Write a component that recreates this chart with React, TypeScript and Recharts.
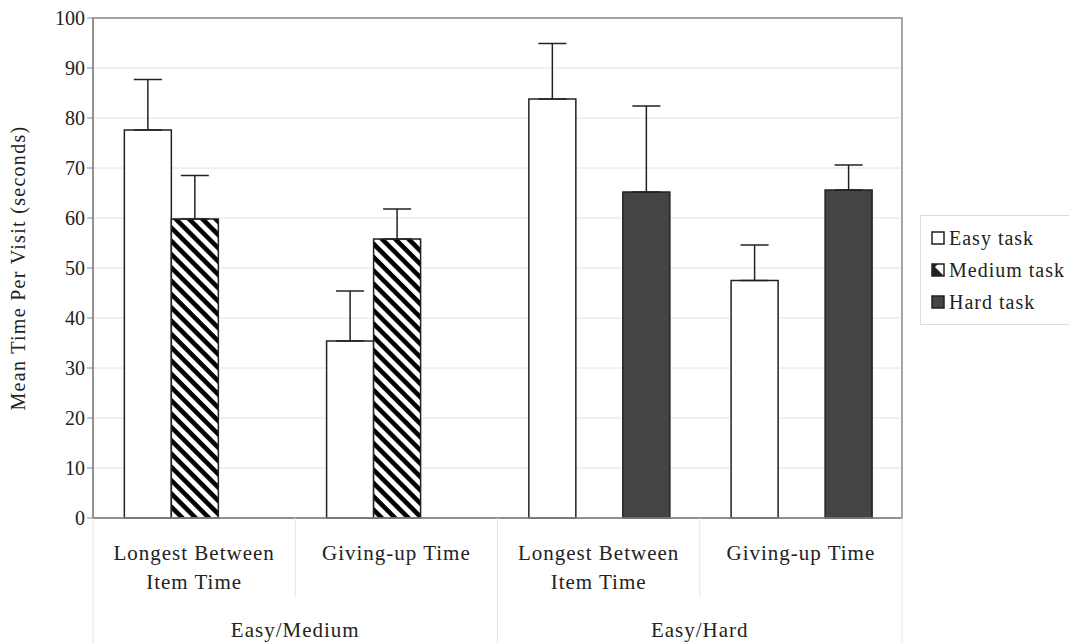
import React from "react";
import {
  BarChart,
  Bar,
  XAxis,
  YAxis,
  CartesianGrid,
  ErrorBar,
  Legend,
  ReferenceArea,
} from "recharts";

const categories = [
  "Longest Between\nItem Time",
  "Giving-up Time",
  "Longest Between\nItem Time",
  "Giving-up Time",
];
const groups = ["Easy/Medium", "Easy/Medium", "Easy/Hard", "Easy/Hard"];

const easy = [77.6, 35.4, 83.8, 47.5];
const easyErr = [10.1, 10.0, 11.1, 7.1];
const medium = [59.8, 55.8, null, null];
const mediumErr = [8.7, 6.0, null, null];
const hard = [null, null, 65.2, 65.6];
const hardErr = [null, null, 17.2, 5.0];

const yTicks = [0, 10, 20, 30, 40, 50, 60, 70, 80, 90, 100];

const data = categories.map((cat, i) => ({
  cat,
  key: `${groups[i]}-${i}`,
  group: groups[i],
  easy: easy[i],
  easyErr: [0, easyErr[i]],
  medium: medium[i],
  mediumErr: mediumErr[i] == null ? null : [0, mediumErr[i]],
  hard: hard[i],
  hardErr: hardErr[i] == null ? null : [0, hardErr[i]],
}));

const FONT = "'Liberation Serif', 'Times New Roman', Tinos, serif";
const INK = "#222";
const AXIS = "#8a8a8a";
const DIVIDER = "#e2e2e2";

function CategoryTick(props: any) {
  const { x, y, payload, index } = props;
  const half = payload?.offset ? payload.offset : 101.5;
  const lines = String(data[index]?.cat ?? "").split("\n");
  const left = x - half;
  const right = x + half;
  const groupStart = index === 0 || groups[index] !== groups[index - 1];
  return (
    <g>
      <line x1={left} y1={y - 8} x2={left} y2={groupStart ? 643 : 597} stroke={DIVIDER} />
      {index === data.length - 1 && (
        <line x1={right} y1={y - 8} x2={right} y2={643} stroke={DIVIDER} />
      )}
      <text
        x={x}
        y={y + 34}
        textAnchor="middle"
        fontFamily={FONT}
        fontSize={21}
        letterSpacing={1}
        fill={INK}
      >
        {lines.map((l, k) => (
          <tspan key={k} x={x} dy={k === 0 ? 0 : 29}>
            {l}
          </tspan>
        ))}
      </text>
      {groupStart && (
        <text
          x={right}
          y={y + 111}
          textAnchor="middle"
          fontFamily={FONT}
          fontSize={21}
          letterSpacing={1}
          fill={INK}
        >
          {groups[index]}
        </text>
      )}
    </g>
  );
}

function LegendBox() {
  const items = [
    { name: "Easy task", kind: "easy" },
    { name: "Medium task", kind: "medium" },
    { name: "Hard task", kind: "hard" },
  ];
  return (
    <div
      style={{
        border: "1px solid #dcdcdc",
        width: 160,
        padding: "6px 0 6px 10px",
        fontFamily: FONT,
        fontSize: 20,
        color: INK,
        background: "#fff",
        boxSizing: "border-box",
      }}
    >
      {items.map((it) => (
        <div key={it.kind} style={{ display: "flex", alignItems: "center", height: 32 }}>
          <svg width={14} height={14} style={{ marginRight: 4 }}>
            {it.kind === "easy" && (
              <rect x={1} y={1} width={12} height={12} fill="#fff" stroke={INK} strokeWidth={1.5} />
            )}
            {it.kind === "medium" && (
              <g>
                <rect x={1} y={1} width={12} height={12} fill="#fff" stroke={INK} strokeWidth={1.5} />
                <polygon points="1,1 13,13 1,13" fill={INK} />
                <polygon points="1,1 7,1 1,7" fill={INK} />
              </g>
            )}
            {it.kind === "hard" && (
              <rect x={1} y={1} width={12} height={12} fill="#444" stroke={INK} strokeWidth={1.5} />
            )}
          </svg>
          <span style={{ letterSpacing: 1 }}>{it.name}</span>
        </div>
      ))}
    </div>
  );
}

export default function App() {
  return (
    <div style={{ position: "absolute", left: 0, top: 0, background: "#fff" }}>
      <BarChart
        width={1069}
        height={643}
        data={data}
        margin={{ top: 18, right: 7, bottom: 0, left: 0 }}
        barCategoryGap="15.5%"
        barGap={0}
      >
        <defs>
          <pattern
            id="hatch"
            width={9.4}
            height={9.4}
            patternUnits="userSpaceOnUse"
            patternTransform="rotate(45)"
          >
            <rect width={9.4} height={9.4} fill="#fff" />
            <rect width={9.4} height={4.6} fill="#000" />
          </pattern>
        </defs>
        <CartesianGrid horizontal vertical={false} stroke={DIVIDER} />
        <ReferenceArea y1={0} y2={100} fill="none" stroke={AXIS} strokeWidth={1.5} />
        <XAxis
          dataKey="key"
          height={125}
          axisLine={{ stroke: AXIS, strokeWidth: 1.5 }}
          tickLine={false}
          interval={0}
          tick={<CategoryTick />}
        />
        <YAxis
          width={93}
          domain={[0, 100]}
          ticks={yTicks}
          interval={0}
          axisLine={{ stroke: AXIS, strokeWidth: 1.5 }}
          tickLine={{ stroke: AXIS }}
          tickSize={6}
          tick={{ fontFamily: FONT, fontSize: 20, fill: INK }}
          label={{
            value: "Mean Time Per Visit (seconds)",
            angle: -90,
            position: "center",
            dx: -29,
            style: { fontFamily: FONT, fontSize: 20, fill: INK, letterSpacing: 1.3 },
          }}
        />
        <Legend
          layout="vertical"
          verticalAlign="middle"
          align="right"
          wrapperStyle={{ left: 920, top: 215, right: "auto", width: 160 }}
          content={() => <LegendBox />}
        />
        <Bar dataKey="easy" name="Easy task" fill="#fff" stroke={INK} strokeWidth={1.5} isAnimationActive={false}>
          <ErrorBar dataKey="easyErr" direction="y" width={14} stroke={INK} strokeWidth={1.5} />
        </Bar>
        <Bar dataKey="medium" name="Medium task" fill="url(#hatch)" stroke={INK} strokeWidth={1.5} isAnimationActive={false}>
          <ErrorBar dataKey="mediumErr" direction="y" width={14} stroke={INK} strokeWidth={1.5} />
        </Bar>
        <Bar dataKey="hard" name="Hard task" fill="#444" stroke={INK} strokeWidth={1.5} isAnimationActive={false}>
          <ErrorBar dataKey="hardErr" direction="y" width={14} stroke={INK} strokeWidth={1.5} />
        </Bar>
      </BarChart>
    </div>
  );
}
